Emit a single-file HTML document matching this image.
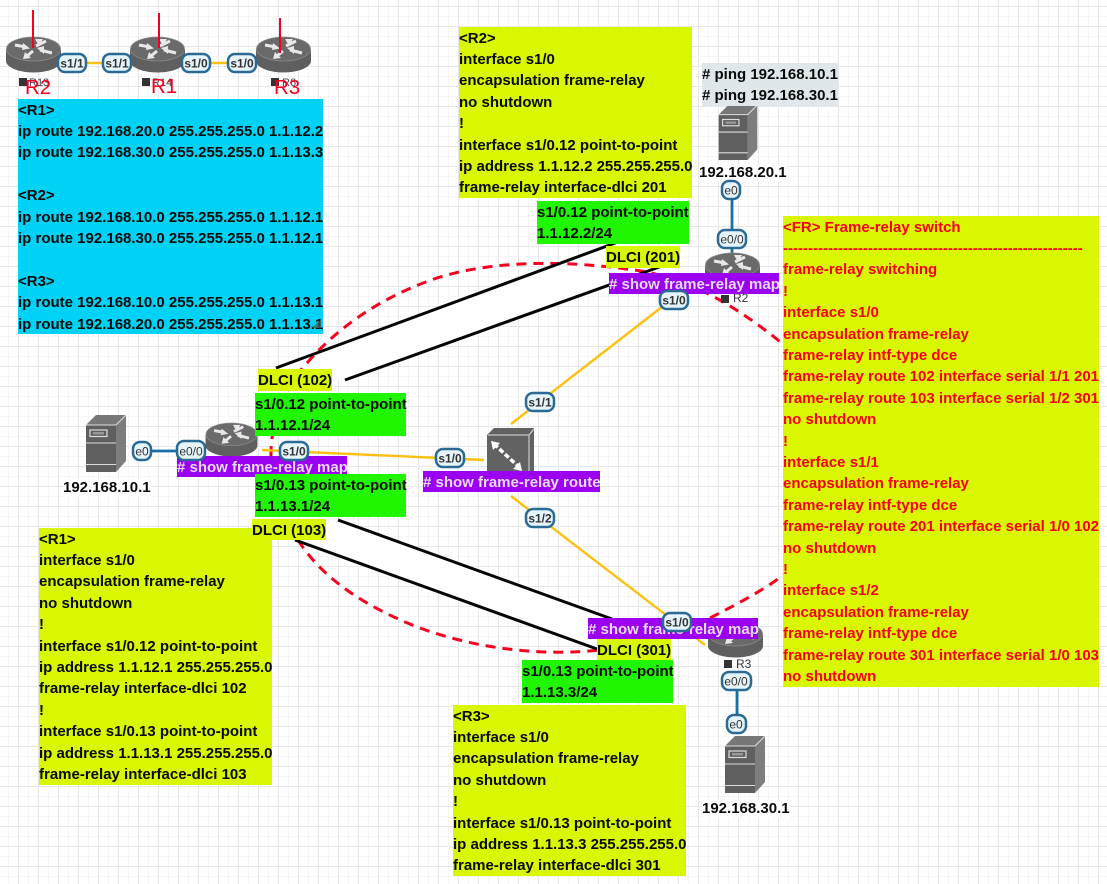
<!DOCTYPE html>
<html><head><meta charset="utf-8"><style>
html,body{margin:0;padding:0}
body{width:1107px;height:884px;position:relative;overflow:hidden;background:#fff;font-family:"Liberation Sans",sans-serif}
svg{position:absolute;left:0;top:0}
.b{position:absolute;font:bold 15px/21.4px "Liberation Sans",sans-serif;color:#0a0a0a;white-space:pre;overflow:visible;padding-top:0}
.b>span{display:block;position:relative;top:.5px}
.y{background:#d9f700}.g{background:#1ff600}.c{background:#00d2f5}
.p{background:#9b00f0;color:#e8dcf5}
.r{color:#f5001e}
.t{position:absolute;font:bold 15px/18px "Liberation Sans",sans-serif;color:#0a0a0a;white-space:pre;background:#fff}
</style></head><body>
<svg width="1107" height="884" viewBox="0 0 1107 884">
<defs>
<pattern id="gr" width="20" height="20" patternUnits="userSpaceOnUse" x="18" y="6"><path d="M10.500 0V20M0 10.500H20" fill="none" stroke="#f6f6f7" stroke-width="1"/><path d="M.5 0V20M0 .5H20" fill="none" stroke="#e7e7e9" stroke-width="1"/></pattern>
<symbol id="rt" viewBox="0 0 55 36" overflow="visible">
<path d="M0 12V24C0 30 12 35.500 27.500 35.500S55 30 55 24V12Z" fill="#5f5f5f"/>
<ellipse cx="27.500" cy="12" rx="27" ry="12" fill="#6a6a6a" stroke="#8a8a8a" stroke-width=".8"/>
<path d="M9 8L20 10M40 4L30 9M21 19L27 14M46 16L34 13" stroke="#e8e8e8" stroke-width="3" fill="none"/>
<path d="M24 11.500L16 13L17 6ZM29 2L37 2L33 9ZM17 22L25 21L19 15ZM31 11L38 9L38 17Z" fill="#e8e8e8"/>
</symbol>
<symbol id="sv" viewBox="0 0 40 58" overflow="visible">
<path d="M0 10L10 0H40L30 10Z" fill="#777"/><path d="M30 10L40 0V46L30 57Z" fill="#7d7d7d"/>
<rect x="0" y="10" width="30" height="47" fill="#5f5f5f"/>
<path d="M0 28H30M0 49.500H30M0 10H30M30 10L40 0" stroke="#ddd" stroke-width="1.100"/>
<rect x="4" y="15" width="17" height="6.500" fill="none" stroke="#ddd" stroke-width="1.200"/><rect x="7" y="17" width="11" height="2.500" fill="#999"/>
</symbol>
</defs>
<rect width="1107" height="884" fill="url(#gr)"/>
<path d="M276 368L626 239L662 266L345 380Z" fill="#fff"/>
<path d="M338 520L612 619L597 649L295 540Z" fill="#fff"/>
<g fill="none" stroke="#f5001e" stroke-width="3" stroke-dasharray="10 7">
<path d="M271 456C270 425 285 385 307 363C340 325 385 295 440 277C490 262 560 258 647 272C680 279 725 295 790 350"/>
<path d="M298 540C320 575 360 605 420 628C480 650 545 656 600 650M710 618C735 605 765 590 790 570"/>
</g>
<g stroke="#050505" stroke-width="3" fill="none">
<path d="M276 368L626 239M345 380L662 266M338 520L612 619M295 540L597 649"/>
</g>
<g stroke="#fdc010" stroke-width="2.400" fill="none">
<path d="M60 63H250M262 450L484 460M511 424L667 303M511 496L705 645"/>
</g>
<g stroke="#1a6fa8" stroke-width="2.800" fill="none">
<path d="M142 451H205M732 180V255M737 680V730"/>
</g>
<use href="#rt" x="6" y="37" width="55" height="36"/>
<use href="#rt" x="130" y="37" width="55" height="36"/>
<use href="#rt" x="256" y="37" width="55" height="36"/>
<use href="#rt" x="204" y="423" width="55" height="34"/>
<use href="#rt" x="705" y="253" width="55" height="36"/>
<use href="#rt" x="708" y="622" width="55" height="36"/>
<g fill="#333"><rect x="19" y="78" width="8" height="8"/><rect x="142" y="78" width="8" height="8"/><rect x="271" y="78" width="8" height="8"/><rect x="721" y="295" width="8" height="8"/><rect x="724" y="660" width="8" height="8"/></g>
<g font-family="Liberation Sans" font-size="11" fill="#445"><text x="29" y="86">R13</text><text x="152" y="86">R14</text><text x="282" y="86">R6</text></g>
<g font-family="Liberation Sans" font-size="12" fill="#334"><text x="733" y="302">R2</text><text x="736" y="668">R3</text></g>
<use href="#sv" x="86" y="415" width="40" height="58"/>
<use href="#sv" x="718" y="105" width="40" height="56"/>
<use href="#sv" x="725" y="736" width="40" height="58"/>
<path d="M487 435L494 428H534V471L527 480H487Z" fill="#626262"/>
<path d="M488 435H529V480M529 435L534 429" stroke="#ddd" stroke-width="1" fill="none"/>
<path d="M494 444L520 468" stroke="#fff" stroke-width="3.500" stroke-dasharray="5 2.500"/>
<path d="M491 441L500 443L493 450ZM522 471L513 469L520 462Z" fill="#fff"/>
<path d="M33 10V48M159 13V48M280 18V53" stroke="#f5001e" stroke-width="2"/>
<g font-family="Liberation Sans" font-size="20.500" fill="#f5001e"><text x="25" y="94">R2</text><text x="151" y="93">R1</text><text x="274" y="94">R3</text></g>
</svg>

<div class="b c" style="left:18px;top:99px;width:305px;height:235px"><span>&lt;R1&gt;
ip route 192.168.20.0 255.255.255.0 1.1.12.2
ip route 192.168.30.0 255.255.255.0 1.1.13.3

&lt;R2&gt;
ip route 192.168.10.0 255.255.255.0 1.1.12.1
ip route 192.168.30.0 255.255.255.0 1.1.12.1

&lt;R3&gt;
ip route 192.168.10.0 255.255.255.0 1.1.13.1
ip route 192.168.20.0 255.255.255.0 1.1.13.1</span></div>
<div class="b y" style="left:459px;top:27px;width:233px;height:171px"><span>&lt;R2&gt;
interface s1/0
encapsulation frame-relay
no shutdown
!
interface s1/0.12 point-to-point
ip address 1.1.12.2 255.255.255.0
frame-relay interface-dlci 201</span></div>
<div class="b" style="left:702px;top:63px;width:136px;height:43px;background:#dfe7ea"><span># ping 192.168.10.1
# ping 192.168.30.1</span></div>
<div class="b g" style="left:537px;top:201px;width:152px;height:43px"><span>s1/0.12 point-to-point
1.1.12.2/24</span></div>
<div class="b y" style="left:606px;top:246px;width:74px;height:22px"><span>DLCI (201)</span></div>
<div class="b p" style="left:609px;top:273px;width:170px;height:21px"><span># show frame-relay map</span></div>
<div class="b y r" style="left:783px;top:216px;width:316px;height:471px"><span>&lt;FR&gt; Frame-relay switch
------------------------------------------------------------
frame-relay switching
!
interface s1/0
encapsulation frame-relay
frame-relay intf-type dce
frame-relay route 102 interface serial 1/1 201
frame-relay route 103 interface serial 1/2 301
no shutdown
!
interface s1/1
encapsulation frame-relay
frame-relay intf-type dce
frame-relay route 201 interface serial 1/0 102
no shutdown
!
interface s1/2
encapsulation frame-relay
frame-relay intf-type dce
frame-relay route 301 interface serial 1/0 103
no shutdown</span></div>
<div class="b y" style="left:258px;top:369px;width:74px;height:22px"><span>DLCI (102)</span></div>
<div class="b g" style="left:255px;top:393px;width:151px;height:43px"><span>s1/0.12 point-to-point
1.1.12.1/24</span></div>
<div class="b p" style="left:177px;top:456px;width:170px;height:21px"><span># show frame-relay map</span></div>
<div class="b g" style="left:255px;top:474px;width:151px;height:43px"><span>s1/0.13 point-to-point
1.1.13.1/24</span></div>
<div class="b y" style="left:39px;top:528px;width:233px;height:257px"><span>&lt;R1&gt;
interface s1/0
encapsulation frame-relay
no shutdown
!
interface s1/0.12 point-to-point
ip address 1.1.12.1 255.255.255.0
frame-relay interface-dlci 102
!
interface s1/0.13 point-to-point
ip address 1.1.13.1 255.255.255.0
frame-relay interface-dlci 103</span></div>
<div class="b y" style="left:252px;top:519px;width:74px;height:21px"><span>DLCI (103)</span></div>
<div class="b p" style="left:423px;top:471px;width:177px;height:21px"><span># show frame-relay route</span></div>
<div class="b p" style="left:588px;top:618px;width:170px;height:21px"><span># show frame-relay map</span></div>
<div class="b y" style="left:597px;top:639px;width:74px;height:21px"><span>DLCI (301)</span></div>
<div class="b g" style="left:522px;top:660px;width:151px;height:43px"><span>s1/0.13 point-to-point
1.1.13.3/24</span></div>
<div class="b y" style="left:453px;top:705px;width:233px;height:171px"><span>&lt;R3&gt;
interface s1/0
encapsulation frame-relay
no shutdown
!
interface s1/0.13 point-to-point
ip address 1.1.13.3 255.255.255.0
frame-relay interface-dlci 301</span></div>
<div class="t" style="left:63px;top:479px">192.168.10.1</div>
<div class="t" style="left:699px;top:164px">192.168.20.1</div>
<div class="t" style="left:702px;top:800px">192.168.30.1</div>

<svg width="1107" height="884" viewBox="0 0 1107 884" style="pointer-events:none">
<g fill="#e6f4fb" stroke="#2b6a94" stroke-width="2.500">
<rect x="58" y="54" width="28" height="18" rx="7"/><rect x="103" y="54" width="28" height="18" rx="7"/><rect x="182" y="54" width="28" height="18" rx="7"/><rect x="228" y="54" width="28" height="18" rx="7"/>
<rect x="133" y="442" width="18" height="18" rx="7"/><rect x="177" y="441" width="28" height="19" rx="7"/><rect x="280" y="442" width="28" height="18" rx="7"/>
<rect x="436" y="449" width="28" height="18" rx="7"/><rect x="526" y="393" width="28" height="18" rx="7"/><rect x="526" y="509" width="28" height="18" rx="7"/>
<rect x="660" y="291" width="28" height="18" rx="7"/><rect x="663" y="613" width="28" height="18" rx="7"/>
<rect x="722" y="181" width="18" height="18" rx="7"/><rect x="718" y="230" width="28" height="18" rx="7"/>
<rect x="722" y="672" width="29" height="18" rx="7"/><rect x="727" y="715" width="19" height="18" rx="7"/>
</g>
<g font-family="Liberation Sans" font-size="12" font-weight="bold" fill="#333" text-anchor="middle">
<text x="72" y="67.500">s1/1</text><text x="117" y="67.500">s1/1</text><text x="196" y="67.500">s1/0</text><text x="242" y="67.500">s1/0</text>
<text x="294" y="455.500">s1/0</text><text x="450" y="462.500">s1/0</text><text x="540" y="406.500">s1/1</text><text x="540" y="522.500">s1/2</text>
<text x="674" y="304.500">s1/0</text><text x="677" y="626.500">s1/0</text>
</g>
<g font-family="Liberation Sans" font-size="12" fill="#333" text-anchor="middle">
<text x="142" y="455.500">e0</text><text x="191" y="455.500">e0/0</text><text x="731" y="194.500">e0</text><text x="732" y="243.500">e0/0</text><text x="736" y="685.500">e0/0</text><text x="736" y="728.500">e0</text>
</g>
<path d="M321 319V328H312Z" fill="#555" opacity=".7"/>
</svg>
</body></html>
